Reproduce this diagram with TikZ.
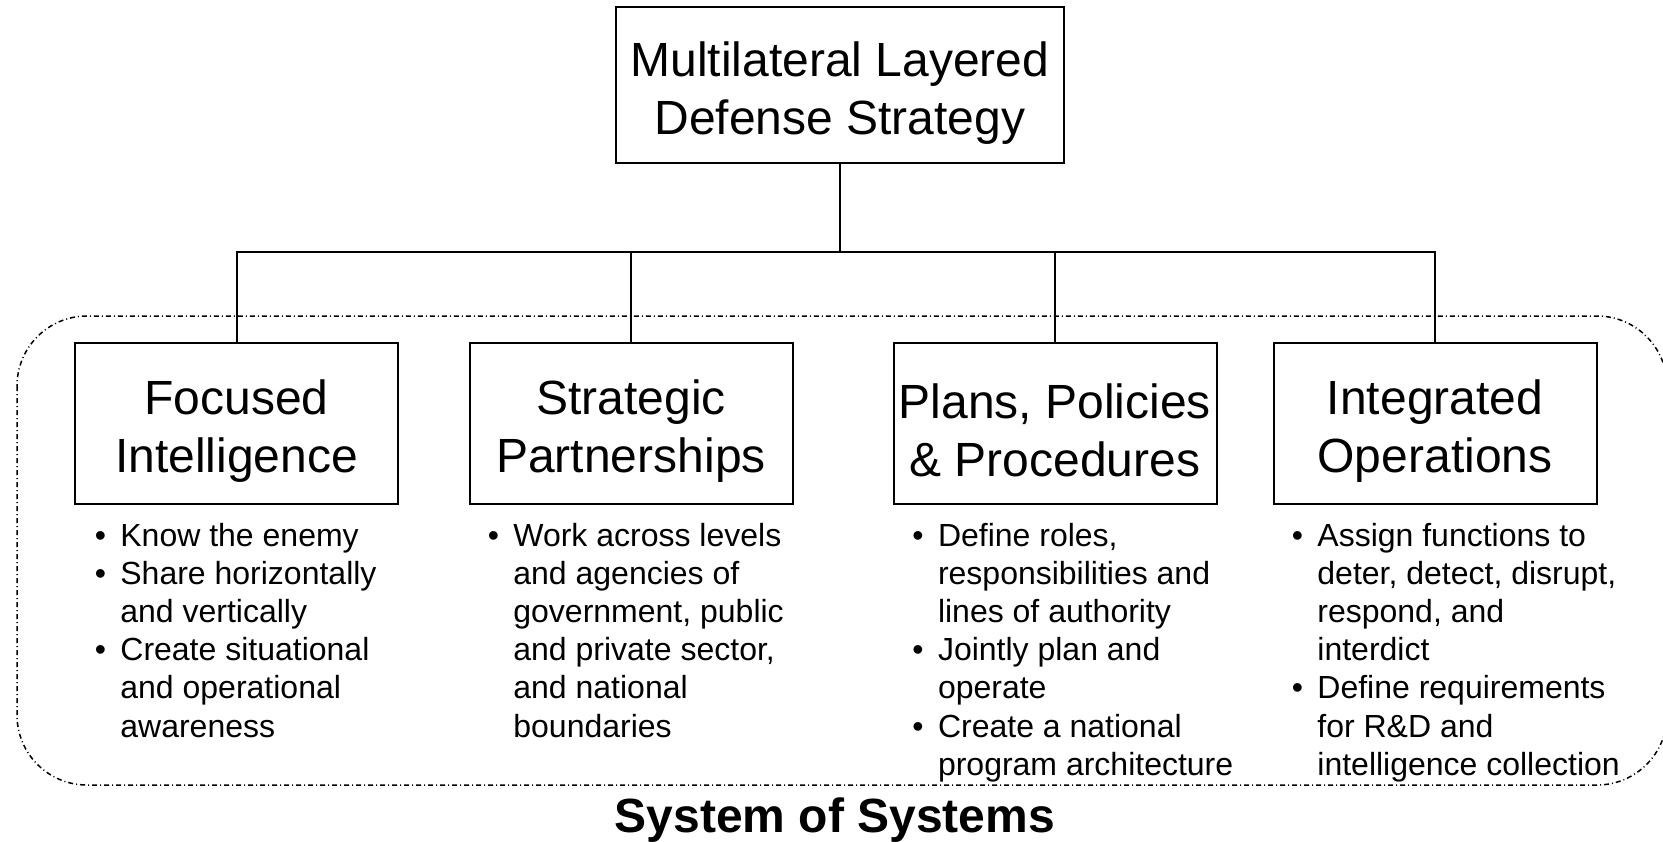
\documentclass[tikz,border=0pt]{standalone}
\usepackage{fontspec}
\setmainfont{Liberation Sans}
\usetikzlibrary{positioning}
\tikzstyle{strategy} = [rectangle, 
minimum width=224pt, 
minimum height=78pt, 
inner sep=0pt,
align=center, 
draw=black, 
line width=1pt,
font=\fontsize{24}{29}\selectfont]
\tikzstyle{pillar} = [rectangle, 
minimum width=161.5pt, 
minimum height=80.6pt, 
inner sep=0pt,
align=center, 
draw=black, 
line width=1pt,
font=\fontsize{24}{29}\selectfont]
\tikzstyle{bullets} = [anchor=base west, % base sits on the last line
inner sep=0pt, 
align=left, 
font=\fontsize{16}{19.1}\selectfont]
\tikzstyle{link} = [line width=1pt]
\tikzstyle{sosframe} = [line width=0.75pt, rounded corners=35pt,
dash pattern=on 2.5pt off 1.5pt on 0.5pt off 1.5pt]
\newcommand{\bul}{\llap{\textbullet\hspace{0.45em}}}
\newcommand{\lift}{\rule{0pt}{25pt}}

\begin{document}
\begin{tikzpicture}[x=0.5pt, y=-0.5pt]
                \useasboundingbox (0,0) rectangle (1663,841);
                \draw[sosframe] (17,316) rectangle (1667,785);

                \node[strategy] (mlds) at (840,85.2) {\lift Multilateral Layered\\ Defense Strategy};
                \node[pillar] (intel) at (236.5,423.2) {\lift Focused\\Intelligence};
                \node[pillar] (partner) at (631,423.2) {\lift Strategic\\Partnerships};
                \node[pillar] (plans) at (1055,423.2) {\lift Plans, Policies\\\& Procedures};
                \node[pillar] (ops) at (1435,423.2) {\lift Integrated\\Operations};
                \coordinate (bus) at (840,252);

                \node[bullets] (intelpts) at (120,737) {\bul Know the enemy\\
                \bul Share horizontally\\and vertically\\
                \bul Create situational\\and operational\\awareness};
                \node[bullets] (partnerpts) at (513,737) {\bul Work across levels\\
                and agencies of\\government, public\\and private sector,\\and national\\boundaries};
                \node[bullets] (planspts) at (937.6,775.2) {\bul Define roles,\\
                responsibilities and\\lines of authority\\
                \bul Jointly plan and\\operate\\
                \bul Create a national\\program architecture};
                \node[bullets] (opspts) at (1317,775.2) {\bul Assign functions to\\
                deter, detect, disrupt,\\respond, and\\interdict\\
                \bul Define requirements\\for R\&D and\\intelligence collection};

                \node[font=\fontsize{24}{29}\selectfont\bfseries] (sos) at (835,820) {System of Systems};

                \draw[link] (mlds) -- (bus);
                \draw[link] (intel) |- (bus);
                \draw[link] (partner) |- (bus);
                \draw[link] (plans) |- (bus);
                \draw[link] (ops) |- (bus);
            \end{tikzpicture}
\end{document}
